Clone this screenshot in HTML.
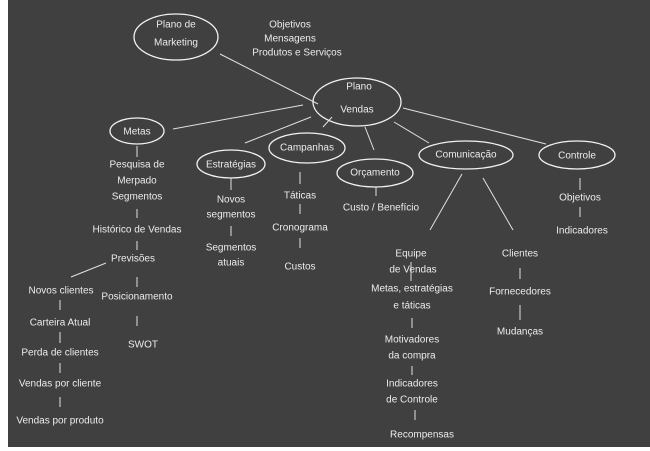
<!DOCTYPE html>
<html><head><meta charset="utf-8"><style>
html,body{margin:0;padding:0;background:#fff;}
svg{display:block;}
text{font-family:"Liberation Sans",sans-serif;fill:#ececec;font-size:10px;text-anchor:middle;dominant-baseline:middle;}
.l{stroke:#e0e0e0;stroke-width:1;fill:none;}
.e{stroke:#f2f2f2;stroke-width:1.3;fill:none;}
</style></head><body>
<svg width="650" height="451" viewBox="0 0 650 451">
<rect x="8" y="0" width="642" height="447" fill="#404040"/>
<!-- ellipses -->
<ellipse class="e" cx="176" cy="37" rx="42" ry="23"/>
<text x="176" y="25" font-size="11.5">Plano de</text>
<text x="176" y="43" font-size="11.5">Marketing</text>
<text x="290" y="25">Objetivos</text>
<text x="290" y="39">Mensagens</text>
<text x="297" y="53">Produtos e Serviços</text>
<line class="l" x1="220" y1="54" x2="318" y2="104"/>
<ellipse class="e" cx="357" cy="102" rx="44" ry="24"/>
<text x="359" y="87" font-size="14">Plano</text>
<text x="357" y="110" font-size="14">Vendas</text>

<ellipse class="e" cx="137" cy="131" rx="27" ry="13"/>
<text x="137" y="132" font-size="12">Metas</text>
<line class="l" x1="173" y1="129" x2="303" y2="105"/>

<ellipse class="e" cx="231" cy="164" rx="34" ry="14"/>
<text x="231" y="165" font-size="12">Estratégias</text>
<line class="l" x1="245" y1="143" x2="311" y2="117"/>

<ellipse class="e" cx="307" cy="148" rx="38" ry="15"/>
<text x="307" y="148" font-size="12">Campanhas</text>
<line class="l" x1="323" y1="127" x2="332" y2="117"/>

<ellipse class="e" cx="375" cy="173" rx="38" ry="14"/>
<text x="375" y="173" font-size="12">Orçamento</text>
<line class="l" x1="365" y1="127" x2="374" y2="150"/>

<ellipse class="e" cx="466" cy="155" rx="47" ry="14"/>
<text x="466" y="155" font-size="12">Comunicação</text>
<line class="l" x1="394" y1="122" x2="429" y2="143"/>

<ellipse class="e" cx="577" cy="155" rx="38" ry="14"/>
<text x="577" y="156" font-size="12">Controle</text>
<line class="l" x1="403" y1="108" x2="546" y2="144"/>

<!-- Metas subtree -->
<line class="l" x1="137" y1="146" x2="137" y2="157"/>
<text x="137" y="165">Pesquisa de</text>
<text x="137" y="181">Merpado</text>
<text x="137" y="197">Segmentos</text>
<line class="l" x1="137" y1="209" x2="137" y2="218"/>
<text x="137" y="230">Histórico  de Vendas</text>
<line class="l" x1="137" y1="241" x2="137" y2="250"/>
<text x="133" y="259">Previsões</text>
<line class="l" x1="71" y1="277" x2="106" y2="263"/>
<line class="l" x1="137" y1="277" x2="137" y2="287"/>
<text x="61" y="291">Novos clientes</text>
<text x="137" y="297">Posicionamento</text>
<line class="l" x1="137" y1="316" x2="137" y2="326"/>
<text x="143" y="345">SWOT</text>
<line class="l" x1="60" y1="300" x2="60" y2="310"/>
<text x="60" y="323">Carteira Atual</text>
<line class="l" x1="60" y1="332" x2="60" y2="343"/>
<text x="60" y="353">Perda de clientes</text>
<line class="l" x1="60" y1="363" x2="60" y2="373"/>
<text x="60" y="384">Vendas por cliente</text>
<line class="l" x1="60" y1="397" x2="60" y2="407"/>
<text x="60" y="421">Vendas por produto</text>

<!-- Estratégias -->
<line class="l" x1="231" y1="178" x2="231" y2="190"/>
<text x="231" y="200">Novos</text>
<text x="231" y="215">segmentos</text>
<line class="l" x1="231" y1="226" x2="231" y2="236"/>
<text x="231" y="248">Segmentos</text>
<text x="231" y="263">atuais</text>

<!-- Campanhas -->
<line class="l" x1="300" y1="172" x2="300" y2="184"/>
<text x="300" y="196">Táticas</text>
<line class="l" x1="300" y1="204" x2="300" y2="214"/>
<text x="300" y="228">Cronograma</text>
<line class="l" x1="300" y1="238" x2="300" y2="248"/>
<text x="300" y="267">Custos</text>

<!-- Orçamento -->
<line class="l" x1="376" y1="187" x2="376" y2="196"/>
<text x="381" y="208">Custo / Benefício</text>

<!-- Comunicação -->
<line class="l" x1="462" y1="174" x2="430" y2="230"/>
<line class="l" x1="483" y1="178" x2="513" y2="230"/>
<text x="411" y="254">Equipe</text>
<text x="413" y="270">de Vendas</text>
<line class="l" x1="411" y1="262" x2="411" y2="281"/>
<text x="412" y="289">Metas, estratégias</text>
<text x="412" y="306">e táticas</text>
<line class="l" x1="412" y1="318" x2="412" y2="328"/>
<text x="412" y="340">Motivadores</text>
<text x="412" y="356">da  compra</text>
<line class="l" x1="412" y1="366" x2="412" y2="375"/>
<text x="412" y="384">Indicadores</text>
<text x="412" y="400">de Controle</text>
<line class="l" x1="415" y1="410" x2="415" y2="420"/>
<text x="422" y="435">Recompensas</text>

<text x="520" y="254">Clientes</text>
<line class="l" x1="520" y1="268" x2="520" y2="279"/>
<text x="520" y="292">Fornecedores</text>
<line class="l" x1="520" y1="305" x2="520" y2="320"/>
<text x="520" y="332">Mudanças</text>

<!-- Controle -->
<line class="l" x1="580" y1="178" x2="580" y2="190"/>
<text x="580" y="198">Objetivos</text>
<line class="l" x1="580" y1="207" x2="580" y2="217"/>
<text x="582" y="231">Indicadores</text>
</svg>
</body></html>
